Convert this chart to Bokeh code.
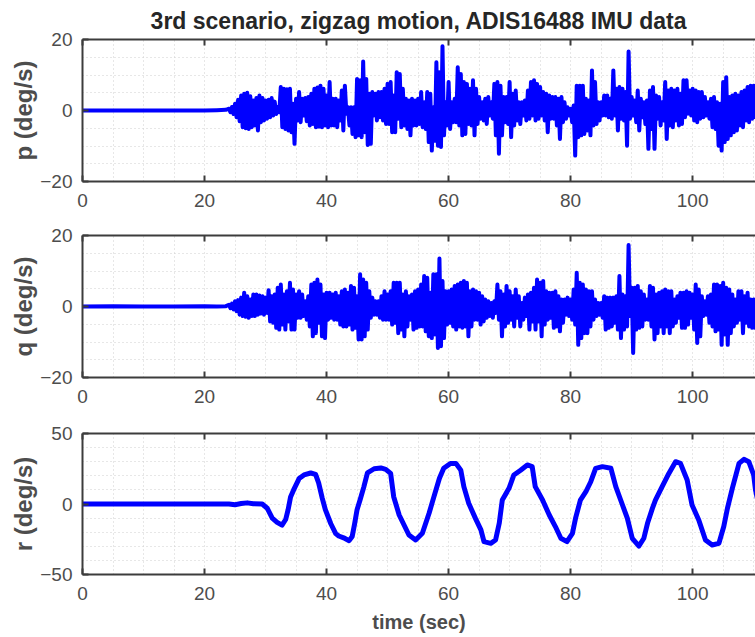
import numpy as np
from bokeh.plotting import figure
from bokeh.layouts import column
from bokeh.models import FixedTicker, LinearAxis, Range1d
from bokeh.embed import file_html
from bokeh.resources import INLINE

# ---------------- data ----------------
TITLE = "3rd scenario, zigzag motion, ADIS16488 IMU data"
X_LABEL = "time (sec)"
Y_LABELS = ["p (deg/s)", "q (deg/s)", "r (deg/s)"]
X_TICKS = [0, 20, 40, 60, 80, 100]
X_MINOR = [5, 10, 15, 25, 30, 35, 45, 50, 55, 65, 70, 75, 85, 90, 95, 105, 110]
PQ_TICKS = [-20, 0, 20]
PQ_MINOR = [-15, -10, -5, 5, 10, 15]
R_TICKS = [-50, 0, 50]
R_MINOR = [-40, -30, -20, -10, 10, 20, 30, 40]
X_END = 110.3

# quiet part before the manoeuvre
quiet_t = [0.0, 5.0, 10.0, 15.0, 20.0, 22.0, 23.5]
p_quiet = [0.0, 0.0, 0.0, 0.0, 0.0, 0.1, 0.2]
q_quiet = [0.0, 0.1, 0.0, 0.0, 0.1, 0.0, 0.1]

# upper / lower extremes of the roll rate every 0.5 s from 24.0 s
p_hi = [0.5, 1.0, 1.9, 3.0, 4.2, 4.7, 5.0, 4.0, 2.8, 3.5,
        4.2, 3.5, 2.8, 3.0, 3.5, 2.5, 1.0, 6.6, 6.1, 6.0,
        6.1, 1.9, 3.3, 5.2, 3.3, 3.5, 3.8, 4.7, 6.1, 6.5,
        7.0, 6.1, 4.2, 8.0, 3.3, 3.3, 2.8, 5.6, 7.0, 0.9,
        0.9, 0.9, 8.9, 8.5, 13.8, 8.9, 4.7, 5.2, 4.7, 5.2,
        5.2, 6.1, 7.5, 8.0, 4.2, 10.8, 10.3, 6.1, 3.3, 2.8,
        3.3, 2.8, 3.3, 5.2, 2.3, 5.2, 4.7, 0.9, 13.6, 10.8,
        18.1, 2.3, 8.0, 2.3, 3.3, 12.2, 10.3, 8.0, 7.5, 6.1,
        8.5, 6.1, 3.8, 2.3, 3.3, 3.8, 2.3, 7.5, 8.0, 7.0,
        3.8, 3.8, 8.0, 4.7, 5.6, 2.3, 2.3, 2.8, 5.6, 8.0,
        8.5, 7.5, 6.6, 5.2, 4.7, 4.2, 3.8, 3.8, 3.3, 3.8,
        2.3, 0.9, 0.5, 1.4, 7.0, 7.0, 7.0, 3.3, 2.8, 11.3,
        8.0, 2.3, 2.3, 4.2, 4.2, 3.3, 11.3, 6.1, 6.6, 6.1,
        5.2, 16.6, 3.8, 2.8, 5.6, 3.3, 2.3, 2.8, 5.6, 6.6,
        4.2, 3.8, 2.3, 8.0, 5.6, 6.1, 5.6, 6.1, 4.7, 8.5,
        8.5, 5.6, 6.1, 5.6, 5.2, 5.2, 3.8, 2.3, 3.3, 3.8,
        2.3, 1.9, 8.0, 9.4, 3.8, 4.2, 4.7, 4.2, 5.2, 5.6,
        6.6, 7.0, 7.0, 6.1]
p_lo = [-0.5, -1.0, -1.9, -3.0, -4.7, -5.0, -5.2, -4.7, -4.2, -5.6,
        -3.3, -2.8, -2.3, -1.9, -1.4, -1.0, -0.5, -4.7, -5.2, -5.6,
        -6.1, -9.4, -2.8, -3.3, -1.4, -3.0, -4.2, -3.8, -4.7, -4.5,
        -4.7, -4.2, -4.7, -4.2, -4.2, -4.7, -2.8, -5.6, -0.9, -4.2,
        -6.6, -7.5, -7.0, -7.5, -6.1, -9.7, -9.4, -1.4, -2.8, -1.9,
        -2.8, -3.8, -3.8, -6.1, -6.1, -2.3, -4.7, -4.2, -5.2, -7.0,
        -4.2, -4.2, -3.8, -4.7, -5.2, -8.9, -11.3, -8.5, -9.9, -10.3,
        -7.0, -4.2, -5.2, -3.3, -3.3, -4.2, -7.0, -6.6, -3.8, -4.2,
        -7.0, -3.8, -2.3, -2.8, -3.8, -1.4, -2.3, -7.0, -12.2, -7.0,
        -3.3, -3.8, -7.5, -4.2, -2.8, -3.8, -1.4, -2.8, -2.3, -1.4,
        -2.8, -2.3, -1.4, -2.8, -6.1, -2.3, -2.3, -4.2, -8.0, -3.3,
        -2.3, -1.4, -3.3, -12.7, -7.5, -7.0, -6.6, -5.6, -7.0, -4.2,
        -3.8, -2.8, -1.4, -1.4, -1.9, -2.3, -1.4, -5.6, -2.3, -2.8,
        -9.9, -2.3, -1.4, -3.3, -5.6, -1.9, -3.8, -10.8, -5.2, -10.8,
        -2.3, -4.2, -2.8, -8.0, -4.2, -4.7, -2.8, -4.2, -3.8, -1.9,
        -0.9, -1.4, -2.8, -3.3, -2.3, -1.9, -1.4, -2.3, -4.7, -5.2,
        -9.9, -11.3, -8.9, -8.0, -7.0, -6.1, -5.6, -4.2, -4.7, -2.8,
        -3.3, -2.3, -1.9, -1.4]

# upper / lower extremes of the pitch rate every 0.5 s from 24.0 s
q_hi = [0.5, 0.8, 1.5, 1.8, 2.5, 3.9, 2.9, 2.0, 3.4, 3.4,
        3.1, 2.9, 2.5, 4.6, 2.9, 3.4, 5.3, 6.2, 3.4, 4.3,
        6.7, 4.8, 3.4, 4.3, 3.4, 1.5, 2.9, 6.2, 6.7, 7.6,
        6.2, 3.4, 3.9, 3.9, 3.4, 3.9, 2.9, 4.3, 4.8, 3.9,
        5.8, 5.3, 2.9, 9.1, 7.6, 6.7, 4.3, 2.5, 1.5, 1.5,
        2.9, 4.3, 3.4, 4.3, 6.7, 6.7, 6.7, 3.4, 4.3, 2.9,
        3.4, 4.3, 4.8, 6.2, 8.6, 8.1, 3.9, 9.1, 9.1, 13.5,
        7.2, 4.3, 4.3, 4.8, 5.8, 6.2, 6.7, 7.2, 6.7, 4.3,
        4.8, 4.3, 3.9, 2.9, 2.0, 1.5, 1.0, 1.5, 6.2, 4.3,
        3.4, 5.8, 4.3, 2.9, 4.8, 2.9, 1.0, 2.5, 3.4, 3.9,
        5.3, 7.6, 6.7, 7.2, 4.3, 3.9, 3.9, 4.3, 2.9, 2.0,
        2.0, 2.5, 2.0, 4.8, 9.5, 6.7, 6.2, 4.8, 4.3, 4.3,
        2.0, 1.0, 1.0, 2.9, 2.5, 2.5, 2.5, 2.9, 8.6, 3.4,
        2.9, 17.3, 5.3, 5.3, 5.8, 4.3, 3.4, 2.0, 5.8, 5.3,
        3.4, 3.9, 4.3, 4.8, 4.3, 4.3, 2.0, 2.9, 3.9, 3.9,
        4.3, 3.9, 3.4, 6.2, 4.8, 2.9, 1.5, 2.9, 3.4, 6.2,
        6.2, 5.8, 6.7, 5.3, 4.8, 3.4, 2.0, 4.3, 4.3, 2.9,
        3.9, 2.0, 2.0, 1.5]
q_lo = [-0.5, -0.8, -1.3, -2.3, -2.7, -2.9, -3.2, -2.7, -2.7, -2.3,
        -2.0, -2.3, -1.8, -4.2, -4.6, -6.0, -6.5, -5.1, -6.5, -4.2,
        -6.5, -6.5, -3.2, -3.2, -2.7, -3.7, -5.6, -8.4, -7.5, -4.6,
        -8.4, -8.9, -3.7, -3.2, -3.7, -3.7, -5.1, -5.6, -5.6, -5.1,
        -6.5, -6.0, -9.3, -9.3, -8.4, -6.5, -3.2, -2.3, -2.3, -3.2,
        -3.7, -3.7, -3.7, -5.1, -4.6, -7.5, -6.5, -8.4, -5.6, -3.7,
        -6.5, -6.0, -5.6, -5.6, -7.0, -8.4, -8.9, -7.9, -11.7, -11.2,
        -8.9, -5.1, -4.6, -5.6, -6.5, -5.6, -6.0, -5.6, -8.4, -5.6,
        -3.7, -3.7, -5.1, -4.2, -3.2, -2.7, -3.2, -1.8, -3.7, -8.4,
        -5.6, -4.6, -3.7, -5.6, -3.2, -5.6, -3.7, -2.7, -6.5, -4.2,
        -6.5, -4.2, -8.4, -5.1, -3.7, -3.2, -6.0, -5.6, -7.0, -4.6,
        -2.3, -2.7, -3.7, -5.1, -10.8, -8.9, -7.5, -7.5, -5.6, -3.7,
        -2.7, -2.3, -3.2, -6.5, -6.0, -5.6, -4.6, -6.5, -8.9, -6.5,
        -5.6, -2.7, -13.1, -6.5, -6.0, -5.6, -3.7, -3.7, -5.6, -9.3,
        -7.5, -5.6, -7.5, -5.6, -7.5, -5.6, -4.6, -3.2, -6.0, -6.0,
        -5.1, -3.2, -6.5, -10.3, -8.4, -2.7, -2.3, -4.6, -5.6, -7.0,
        -6.5, -10.8, -7.9, -10.8, -7.5, -5.6, -4.6, -3.7, -7.5, -4.6,
        -5.6, -6.0, -6.0, -2.7]

# yaw rate
r_t = [0.0, 10.0, 20.0, 24.0, 25.0, 26.0, 27.0, 28.0, 29.45, 30.27,
       31.1, 31.9, 32.7, 33.3, 33.7, 34.1, 34.6, 35.5, 36.3, 37.4,
       38.2, 38.7, 39.3, 39.8, 40.7, 41.5, 42.0, 42.8, 43.7, 44.2,
       44.6, 45.0, 45.5, 46.1, 46.7, 47.8, 48.9, 49.7, 50.5, 51.0,
       51.9, 52.7, 53.5, 54.6, 55.7, 56.8, 57.6, 58.5, 59.2, 60.3,
       61.2, 62.0, 62.5, 63.3, 64.4, 65.3, 65.8, 66.9, 67.7, 68.3,
       68.8, 69.9, 70.7, 71.8, 72.9, 73.7, 74.2, 75.4, 76.5, 77.5,
       78.4, 79.4, 80.3, 80.8, 81.6, 82.5, 83.3, 84.1, 85.2, 86.6,
       87.4, 88.5, 89.3, 90.1, 91.2, 92.0, 92.6, 93.4, 93.9, 95.0,
       96.1, 97.2, 98.0, 99.1, 99.9, 101.0, 102.1, 103.2, 104.3, 105.1,
       105.7, 106.5, 107.6, 108.4, 109.2, 110.0, 110.3, 110.8]
r_v = [0.0, 0.0, 0.0, 0.0, -0.5, 0.3, 0.8, 0.2, 0.0, -3.0,
       -10.0, -13.0, -15.0, -11.0, -4.0, 5.0, 10.0, 18.0, 20.6, 22.0,
       21.0, 15.0, 4.0, -4.0, -14.0, -21.0, -22.7, -24.0, -26.0, -23.0,
       -14.0, -4.0, 3.0, 12.0, 22.0, 25.0, 25.6, 24.6, 21.7, 5.2,
       -7.8, -14.9, -22.0, -25.5, -20.8, -6.6, 5.2, 18.2, 25.3, 28.8,
       28.8, 24.0, 12.3, 0.5, -10.2, -18.4, -26.7, -27.9, -25.5, -13.7,
       2.8, 11.1, 20.6, 24.0, 27.7, 26.5, 12.3, 2.8, -7.8, -16.0,
       -24.3, -26.7, -20.8, -10.2, 2.8, 8.7, 15.8, 25.3, 26.5, 25.3,
       12.3, -0.7, -10.2, -24.3, -29.8, -24.3, -13.7, -3.1, 2.8, 12.3,
       21.7, 30.0, 28.8, 17.0, -0.7, -11.3, -25.5, -29.1, -27.9, -16.0,
       -3.1, 11.1, 28.8, 31.7, 30.0, 20.6, 10.0, 0.0]

START = 24.0
STEP = 0.5

# ---------------- styling ----------------
FONT = "Liberation Sans"
BLUE = "#0000ff"
AXIS_C = "#3c3c3c"
LABEL_C = "#4d4d4d"
TEXT_C = "#262626"
GRID_C = "#cfcfcf"


def zigzag(quiet_vals, hi, lo):
    xs = list(quiet_t)
    ys = list(quiet_vals)
    for i, (h, l) in enumerate(zip(hi, lo)):
        t = START + STEP * i
        xs += [t, t + STEP / 2]
        ys += [h, l]
    return xs, ys


def panel(height, top, bottom, ylabel, yr, yticks, yminor, title=None, xlabel=None):
    p = figure(width=755, height=height, x_range=Range1d(0, X_END), y_range=Range1d(*yr),
               output_backend="svg", toolbar_location=None,
               min_border_left=82, min_border_right=0, min_border_top=top,
               min_border_bottom=bottom, outline_line_color=None,
               background_fill_color="white", border_fill_color="white")
    xt = FixedTicker(ticks=X_TICKS, minor_ticks=X_MINOR)
    yt = FixedTicker(ticks=yticks, minor_ticks=yminor)
    p.xaxis.ticker = xt
    p.yaxis.ticker = yt
    top_ax = LinearAxis(ticker=xt, major_label_standoff=0)
    p.add_layout(top_ax, "above")
    for ax in p.axis:
        ax.axis_line_color = AXIS_C
        ax.axis_line_width = 2
        ax.major_tick_line_color = AXIS_C
        ax.major_tick_line_width = 2
        ax.major_tick_in = 6
        ax.major_tick_out = 0
        ax.minor_tick_line_color = None
        ax.major_label_text_font = FONT
        ax.major_label_text_color = LABEL_C
        ax.major_label_text_font_size = "19px"
        ax.axis_label_text_font = FONT
        ax.axis_label_text_font_style = "bold"
        ax.axis_label_text_color = LABEL_C
    for ax in p.below:
        ax.major_label_standoff = 8
    # the top axis only carries tick marks, no labels
    top_ax.major_label_text_color = None
    top_ax.major_label_text_font_size = "1px"
    p.yaxis.major_label_standoff = 6
    p.yaxis.axis_label = ylabel
    p.yaxis.axis_label_text_font_size = "24px"
    p.yaxis.axis_label_standoff = 0
    if xlabel:
        p.below[0].axis_label = xlabel
        p.below[0].axis_label_text_font_size = "20px"
        p.below[0].axis_label_standoff = 8
    for g in (p.xgrid, p.ygrid):
        g.grid_line_color = GRID_C
        g.grid_line_dash = "1 3"
        g.grid_line_width = 1
        g.minor_grid_line_color = GRID_C
        g.minor_grid_line_dash = "1 3"
        g.minor_grid_line_width = 1
    if title:
        p.title.text = title
        p.title.align = "center"
        p.title.text_font = FONT
        p.title.text_font_size = "23px"
        p.title.text_font_style = "bold"
        p.title.text_color = TEXT_C
        p.title.standoff = 3
        p.title.offset = 0
    return p


p1 = panel(212, 39, 31, Y_LABELS[0], (-20, 20), PQ_TICKS, PQ_MINOR, title=TITLE)
x1, y1 = zigzag(p_quiet, p_hi, p_lo)
p1.line(x1, y1, line_color=BLUE, line_width=4, line_join="round")

p2 = panel(198, 23, 33, Y_LABELS[1], (-20, 20), PQ_TICKS, PQ_MINOR)
x2, y2 = zigzag(q_quiet, q_hi, q_lo)
p2.line(x2, y2, line_color=BLUE, line_width=4, line_join="round")

p3 = panel(227, 23, 63, Y_LABELS[2], (-50, 50), R_TICKS, R_MINOR, xlabel=X_LABEL)
p3.line(r_t, r_v, line_color=BLUE, line_width=5, line_join="round", line_cap="round")

layout = column(p1, p2, p3, spacing=0)
open("out.html", "w").write(file_html(layout, INLINE))
